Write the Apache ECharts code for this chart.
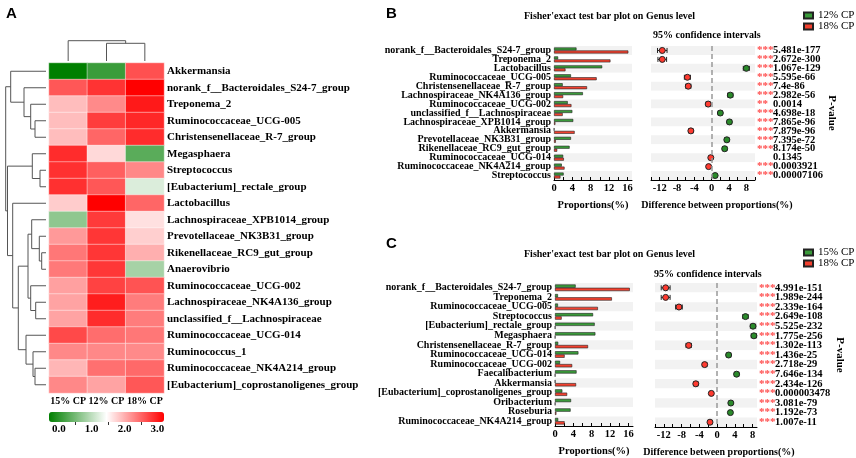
<!DOCTYPE html>
<html><head><meta charset="utf-8">
<script src="https://cdn.jsdelivr.net/npm/echarts@6/dist/echarts.min.js"></script>
<style>html,body{margin:0;padding:0;background:#fff}#c{width:856px;height:458px}</style>
</head><body><div id="c"></div>
<script>
// ---------- Panel A: heatmap ----------
const hmCols = ['15% CP', '12% CP', '18% CP'];
const hmRows = ['Akkermansia','norank_f__Bacteroidales_S24-7_group','Treponema_2','Ruminococcaceae_UCG-005',
  'Christensenellaceae_R-7_group','Megasphaera','Streptococcus','[Eubacterium]_rectale_group','Lactobacillus',
  'Lachnospiraceae_XPB1014_group','Prevotellaceae_NK3B31_group','Rikenellaceae_RC9_gut_group','Anaerovibrio',
  'Ruminococcaceae_UCG-002','Lachnospiraceae_NK4A136_group','unclassified_f__Lachnospiraceae','Ruminococcaceae_UCG-014',
  'Ruminococcus_1','Ruminococcaceae_NK4A214_group','[Eubacterium]_coprostanoligenes_group'];
const hm15 = [-0.3, 2.6, 1.9, 1.9, 1.9, 2.9, 2.87, 2.87, 1.8, 0.68, 2.15, 2.38, 2.37, 2.1, 2.08, 2.08, 2.7, 2.27, 1.95, 2.27];
const hm12 = [0.1, 2.85, 2.25, 2.78, 2.5, 1.71, 2.55, 2.6, 3.2, 2.8, 2.83, 2.83, 2.82, 2.75, 3.0, 2.9, 2.45, 2.27, 2.43, 2.08];
const hm18 = [2.65, 3.2, 3.03, 2.93, 2.9, 0.32, 2.27, 1.2, 2.5, 1.66, 1.78, 2.0, 0.84, 2.63, 2.35, 2.35, 2.38, 2.25, 2.48, 2.6];
const cbLabels = [0, 1, 2, 3];
const cbTicks = [0.5, 1.5, 2.5];
// hclust-style merges: negative = leaf (1-based), positive = earlier merge (1-based); third = height
const rowMerge = [[-4,-5,11],[-3,1,15.3],[-2,2,22],[-1,3,35.3],[-7,-8,6],[-6,5,13.7],[-12,-13,4.3],[-11,7,6.7],
  [-10,8,14.3],[-15,-16,10.3],[-14,10,15.3],[9,11,18],[-19,-20,11],[-18,13,13],[-17,14,20],[12,15,27.7],
  [-9,16,33.3],[6,17,38.5],[4,18,40.3]];
const colMerge = [[-2,-3,17.7],[-1,1,20.3]];

// ---------- Panel B ----------
const genusB = ['norank_f__Bacteroidales_S24-7_group','Treponema_2','Lactobacillus','Ruminococcaceae_UCG-005',
  'Christensenellaceae_R-7_group','Lachnospiraceae_NK4A136_group','Ruminococcaceae_UCG-002','unclassified_f__Lachnospiraceae',
  'Lachnospiraceae_XPB1014_group','Akkermansia','Prevotellaceae_NK3B31_group','Rikenellaceae_RC9_gut_group',
  'Ruminococcaceae_UCG-014','Ruminococcaceae_NK4A214_group','Streptococcus'];
const propB12 = [4.9, 0.9, 10.5, 3.7, 1.9, 6.3, 3.0, 4.0, 4.2, 0.05, 3.7, 3.4, 2.0, 1.7, 2.1];
const propB18 = [16.2, 12.3, 2.5, 9.3, 7.2, 2.0, 3.8, 1.9, 0.3, 4.5, 0.4, 0.7, 2.15, 2.3, 1.4];
const diffB = [-11.4, -11.4, 8.0, -5.6, -5.4, 4.3, -0.8, 2.0, 4.1, -4.8, 3.5, 3.0, -0.2, -0.7, 0.8];
const ciB = [1.1, 1.0, 0.7, 0.7, 0.6, 0.6, 0.5, 0.5, 0.5, 0.5, 0.5, 0.5, 0.4, 0.4, 0.4];
const starsB = ['***','***','***','***','***','***','**','***','***','***','***','***','','***','***'];
const pB = ['5.481e-177','2.672e-300','1.067e-129','5.595e-66','7.4e-86','2.982e-56','0.0014','4.698e-18',
  '7.865e-96','7.879e-96','7.395e-72','8.174e-50','0.1345','0.0003921','0.00007106'];

// ---------- Panel C ----------
const genusC = ['norank_f__Bacteroidales_S24-7_group','Treponema_2','Ruminococcaceae_UCG-005','Streptococcus',
  '[Eubacterium]_rectale_group','Megasphaera','Christensenellaceae_R-7_group','Ruminococcaceae_UCG-014',
  'Ruminococcaceae_UCG-002','Faecalibacterium','Akkermansia','[Eubacterium]_coprostanoligenes_group',
  'Oribacterium','Roseburia','Ruminococcaceae_NK4A214_group'];
const propC15 = [4.5, 0.65, 0.65, 8.3, 8.65, 8.8, 0.7, 5.1, 1.1, 4.7, 0.05, 1.6, 3.5, 3.4, 0.7];
const propC18 = [16.3, 12.4, 9.35, 1.45, 0.05, 0.05, 7.2, 2.1, 3.75, 0.05, 4.6, 2.65, 0.05, 0.3, 2.1];
const diffC = [-11.6, -11.6, -8.6, 6.4, 8.1, 8.3, -6.4, 2.6, -2.8, 4.4, -4.8, -1.3, 3.1, 3.0, -1.6];
const ciC = [1.0, 1.0, 0.75, 0.6, 0.6, 0.6, 0.6, 0.5, 0.5, 0.5, 0.5, 0.4, 0.4, 0.4, 0.4];
const starsC = ['***','***','***','***','***','***','***','***','***','***','***','***','***','***','***'];
const pC = ['4.991e-151','1.989e-244','2.339e-164','2.649e-108','5.525e-232','1.775e-256','1.302e-113','1.436e-25',
  '2.718e-29','7.646e-134','2.434e-126','0.000003478','3.081e-79','1.192e-73','1.007e-11'];

const propTicks = [0, 2, 4, 6, 8, 10, 12, 14, 16];
const propLabels = [0, 4, 8, 12, 16];
const diffTicks = [-14, -12, -10, -8, -6, -4, -2, 0, 2, 4, 6, 8, 10];
const diffLabels = [-12, -8, -4, 0, 4, 8];

// ---------- helpers ----------
const SERIF = "'Liberation Serif','Times New Roman',serif";
const GREEN = '#3a9a3a', RED = '#f2412f';
const txt = (size, bold) => ({ fontFamily: SERIF, fontSize: size, fontWeight: bold ? 'bold' : 'normal', color: '#000' });

function dendro(merges) {
  const pos = [], hgt = [], segs = [];
  const get = k => k < 0 ? { p: -k - 0.5, h: 0 } : { p: pos[k - 1], h: hgt[k - 1] };
  merges.forEach((m, i) => {
    const a = get(m[0]), b = get(m[1]);
    segs.push([[a.h, a.p], [m[2], a.p], [m[2], b.p], [b.h, b.p]]);
    pos[i] = (a.p + b.p) / 2; hgt[i] = m[2];
  });
  return segs;
}
const rowSegs = dendro(rowMerge).map(s => ({ coords: s }));
const colSegs = dendro(colMerge).map(s => ({ coords: s.map(c => [c[1], c[0]]) }));

const hmData = [];
hmRows.forEach((r, i) => {
  hmData.push([0, i, hm15[i]]); hmData.push([1, i, hm12[i]]); hmData.push([2, i, hm18[i]]);
});

function errRender(params, api) {
  const v = api.value(0), e = api.value(1), r = api.value(2);
  const a = api.coord([v - e, r]), b = api.coord([v + e, r]);
  const st = { stroke: '#222', lineWidth: 1 };
  return { type: 'group', children: [
    { type: 'line', shape: { x1: a[0], y1: a[1], x2: b[0], y2: b[1] }, style: st },
    { type: 'line', shape: { x1: a[0], y1: a[1] - 2.5, x2: a[0], y2: a[1] + 2.5 }, style: st },
    { type: 'line', shape: { x1: b[0], y1: b[1] - 2.5, x2: b[0], y2: b[1] + 2.5 }, style: st }
  ] };
}

const stripe = { show: true, interval: 0, areaStyle: { color: ['#f2f2f2', '#ffffff'] } };

function propAxis(grid) {
  return { type: 'value', gridIndex: grid, min: 0, max: 17,
    axisLine: { show: true, lineStyle: { color: '#000', width: 1 } },
    axisTick: { show: true, inside: true, length: 3, customValues: propTicks, lineStyle: { color: '#000' } },
    axisLabel: { customValues: propLabels, margin: 3, ...txt(10.5, true) },
    splitLine: { show: false },
    name: 'Proportions(%)', nameLocation: 'middle', nameGap: 20, nameTextStyle: txt(10.5, true) };
}
function diffAxis(grid, max, shift) {
  return { type: 'value', gridIndex: grid, min: -14, max: max,
    axisLine: { show: true, lineStyle: { color: '#000', width: 1 } },
    axisTick: { show: true, inside: true, length: 3, customValues: diffTicks.filter(v => v <= max), lineStyle: { color: '#000' } },
    axisLabel: { customValues: diffLabels, margin: 3, ...txt(10.5, true) },
    splitLine: { show: false },
    name: 'Difference between proportions(%)', nameLocation: 'middle', nameGap: 20,
    nameTextStyle: { ...txt(10, true), padding: [0, 0, 0, shift] } };
}
function catAxis(grid, data, showLabel) {
  return { type: 'category', gridIndex: grid, data: data, inverse: true,
    axisLine: { show: false }, axisTick: { show: false }, splitLine: { show: false }, splitArea: stripe,
    axisLabel: showLabel ? { interval: 0, margin: 3, ...txt(10, true) } : { show: false, interval: 0 } };
}
function pAxis(grid, data, stars, pv, gap) {
  return { type: 'category', gridIndex: grid, data: data, inverse: true, position: 'right',
    axisLine: { show: false }, axisTick: { show: false }, splitLine: { show: false },
    axisLabel: { interval: 0, margin: 2, formatter: (v, i) => '{s|' + stars[i] + '}{p|' + pv[i] + '}',
      rich: { s: { color: '#ff4b4b', fontSize: 11, fontWeight: 'bold', fontFamily: SERIF, width: 16 },
              p: { ...txt(10.5, true) } } },
    name: 'P-value', nameLocation: 'middle', nameRotate: -90, nameGap: gap, nameTextStyle: txt(11, true) };
}
const dotColor = p => (p.value[0] >= 0 ? '#2a8a2a' : '#ff3b30');
const zeroLine = { symbol: 'none', silent: true, label: { show: false },
  lineStyle: { type: [5, 3], color: '#999', width: 1.5 }, data: [{ xAxis: 0 }] };

const option = {
  animation: false,
  backgroundColor: '#fff',
  title: [
    { text: 'A', left: 6, top: 6, padding: 0, textStyle: { fontFamily: 'Liberation Sans, Arial, sans-serif', fontSize: 15, fontWeight: 'bold', color: '#000' } },
    { text: 'B', left: 386, top: 6, padding: 0, textStyle: { fontFamily: 'Liberation Sans, Arial, sans-serif', fontSize: 15, fontWeight: 'bold', color: '#000' } },
    { text: 'C', left: 386, top: 236, padding: 0, textStyle: { fontFamily: 'Liberation Sans, Arial, sans-serif', fontSize: 15, fontWeight: 'bold', color: '#000' } },
    { text: "Fisher'exact test bar plot on Genus level", left: 524, top: 11, padding: 0, textStyle: txt(10, true) },
    { text: '95% confidence intervals', left: 653, top: 30, padding: 0, textStyle: txt(10, true) },
    { text: "Fisher'exact test bar plot on Genus level", left: 524, top: 249, padding: 0, textStyle: txt(10, true) },
    { text: '95% confidence intervals', left: 654, top: 269, padding: 0, textStyle: txt(10, true) }
  ],
  legend: [
    { data: ['12% CP', '18% CP'], orient: 'vertical', left: 803, top: 10, padding: 0, itemWidth: 9, itemHeight: 6, itemGap: 0,
      icon: 'rect', selectedMode: false, textStyle: txt(11, false) },
    { data: ['15% CP', '18% CP'], orient: 'vertical', left: 803, top: 247, padding: 0, itemWidth: 9, itemHeight: 6, itemGap: 0,
      icon: 'rect', selectedMode: false, textStyle: txt(11, false) }
  ],
  visualMap: {
    type: 'continuous', min: -0.3, max: 3.2, seriesIndex: 0, orient: 'horizontal',
    left: 49, top: 412, itemWidth: 10, itemHeight: 115, padding: 0, text: null, showLabel: false,
    calculable: false, hoverLink: false,
    inRange: { color: ['#007f00', '#ffffff', '#ff0000'] }
  },
  grid: [
    { left: 49, top: 63, width: 115, height: 330 },   // 0 heatmap
    { left: 0, top: 63, width: 46, height: 330 },     // 1 row dendrogram
    { left: 49, top: 38, width: 115, height: 23 },    // 2 col dendrogram
    { left: 49, top: 412, width: 115, height: 10 },   // 3 colour bar axis
    { left: 554, top: 46, width: 78, height: 134 },   // 4 B bars
    { left: 651, top: 46, width: 104, height: 134 },  // 5 B CI
    { left: 555, top: 283, width: 78, height: 147 },  // 6 C bars
    { left: 655, top: 283, width: 102, height: 147 }  // 7 C CI
  ],
  xAxis: [
    { type: 'category', gridIndex: 0, data: hmCols, axisLine: { show: false }, axisTick: { show: false },
      axisLabel: { interval: 0, margin: 3, ...txt(10, true) } },
    { type: 'value', gridIndex: 1, min: 0, max: 46, inverse: true, show: false },
    { type: 'value', gridIndex: 2, min: 0, max: 3, show: false },
    { type: 'value', gridIndex: 3, min: -0.3, max: 3.2, axisLine: { show: false }, splitLine: { show: false },
      axisTick: { show: true, length: 3, customValues: cbTicks, lineStyle: { color: '#333' } },
      axisLabel: { customValues: cbLabels, margin: 2, formatter: v => v.toFixed(1), ...txt(11, true) } },
    propAxis(4),
    diffAxis(5, 10, 28),
    propAxis(6),
    diffAxis(7, 9, 26)
  ],
  yAxis: [
    { type: 'category', gridIndex: 0, data: hmRows, inverse: true, position: 'right',
      axisLine: { show: false }, axisTick: { show: false }, axisLabel: { interval: 0, margin: 3, ...txt(11, true) } },
    { type: 'value', gridIndex: 1, min: 0, max: 20, inverse: true, show: false },
    { type: 'value', gridIndex: 2, min: 0, max: 23, show: false },
    { type: 'value', gridIndex: 3, min: 0, max: 1, show: false },
    catAxis(4, genusB, true),
    catAxis(5, genusB, false),
    pAxis(5, genusB, starsB, pB, 70),
    catAxis(6, genusC, true),
    catAxis(7, genusC, false),
    pAxis(7, genusC, starsC, pC, 75)
  ],
  series: [
    { type: 'heatmap', xAxisIndex: 0, yAxisIndex: 0, data: hmData, silent: true,
      itemStyle: { borderColor: 'rgba(255,255,255,0.55)', borderWidth: 0.8 } },
    { type: 'lines', coordinateSystem: 'cartesian2d', xAxisIndex: 1, yAxisIndex: 1, polyline: true, silent: true,
      lineStyle: { color: '#555', width: 1, opacity: 1 }, data: rowSegs },
    { type: 'lines', coordinateSystem: 'cartesian2d', xAxisIndex: 2, yAxisIndex: 2, polyline: true, silent: true,
      lineStyle: { color: '#555', width: 1, opacity: 1 }, data: colSegs },
    { name: '12% CP', type: 'bar', xAxisIndex: 4, yAxisIndex: 4, data: propB12, barWidth: 3, barGap: '0%',
      itemStyle: { color: GREEN, borderColor: '#222', borderWidth: 0.6 } },
    { name: '18% CP', type: 'bar', xAxisIndex: 4, yAxisIndex: 4, data: propB18, barWidth: 3, barGap: '0%',
      itemStyle: { color: RED, borderColor: '#222', borderWidth: 0.6 } },
    { type: 'custom', xAxisIndex: 5, yAxisIndex: 5, renderItem: errRender, encode: { x: 0, y: 2 }, silent: true,
      data: diffB.map((d, i) => [d, ciB[i], i]), z: 3 },
    { type: 'scatter', xAxisIndex: 5, yAxisIndex: 5, symbolSize: 6, data: diffB.map((d, i) => [d, i]), z: 4,
      itemStyle: { color: dotColor, borderColor: '#222', borderWidth: 1, opacity: 1 }, markLine: zeroLine },
    { name: '15% CP', type: 'bar', xAxisIndex: 6, yAxisIndex: 7, data: propC15, barWidth: 3.3, barGap: '0%',
      itemStyle: { color: GREEN, borderColor: '#222', borderWidth: 0.6 } },
    { name: '18% CP', type: 'bar', xAxisIndex: 6, yAxisIndex: 7, data: propC18, barWidth: 3.3, barGap: '0%',
      itemStyle: { color: RED, borderColor: '#222', borderWidth: 0.6 } },
    { type: 'custom', xAxisIndex: 7, yAxisIndex: 8, renderItem: errRender, encode: { x: 0, y: 2 }, silent: true,
      data: diffC.map((d, i) => [d, ciC[i], i]), z: 3 },
    { type: 'scatter', xAxisIndex: 7, yAxisIndex: 8, symbolSize: 6, data: diffC.map((d, i) => [d, i]), z: 4,
      itemStyle: { color: dotColor, borderColor: '#222', borderWidth: 1, opacity: 1 }, markLine: zeroLine }
  ]
};
const chart = echarts.init(document.getElementById('c'));
chart.setOption(option);
</script></body></html>
